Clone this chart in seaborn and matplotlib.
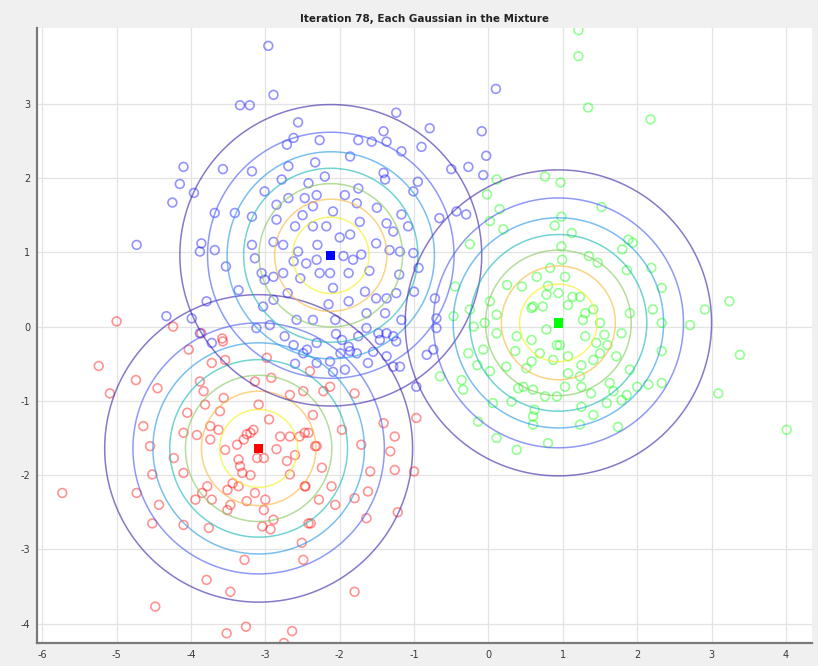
import numpy as np
import pandas as pd
import matplotlib
matplotlib.use("Agg")
import matplotlib.pyplot as plt
import seaborn as sns

# ---- samples assigned to each mixture component ----
red_x = [-5.24, -4.74, -5.09, -4.45, -4.03, -4.24, -3.57, -3.72, -3.54, -2.98, -3.88, -3.83, -3.56,
         -3.14, -2.92, -2.67, -2.49, -4.05, -3.81, -3.61, -3.09, -4.64, -4.10, -3.92, -3.74, -3.63,
         -3.74, -3.38, -3.54, -3.20, -3.16, -3.29, -2.95, -2.80, -2.67, -2.54, -2.42, -2.33, -4.55,
         -4.23, -4.10, -4.52, -4.73, -5.73, -4.43, -4.52, -4.10, -3.94, -3.85, -3.76, -3.72, -3.78,
         -3.51, -3.44, -3.47, -3.51, -3.36, -3.34, -3.31, -3.36, -3.11, -3.02, -3.00, -3.02, -2.89,
         -3.04, -2.93, -2.67, -2.71, -2.60, -2.46, -2.39, -2.51, -2.49, -3.28, -3.79, -3.47, -4.48,
         -3.52, -3.26, -2.64, -2.75, -3.14, -2.40, -2.13, -2.22, -1.80, -2.36, -2.47, -2.31, -1.97,
         -1.71, -1.41, -1.26, -1.32, -0.97, -2.24, -1.59, -1.26, -1.00, -2.47, -2.11, -2.28, -2.06,
         -1.80, -1.62, -2.42, -1.64, -1.22, -1.80, -5.00, -3.86, -3.58, -3.25, -2.85, -3.20, -3.25]
red_y = [-0.53, -0.72, -0.90, -0.83, -0.31, 0.00, -0.20, -0.49, -0.45, -0.42, -0.74, -0.87, -0.96,
         -0.74, -0.69, -0.92, -0.87, -1.16, -1.05, -1.14, -1.05, -1.34, -1.43, -1.46, -1.34, -1.39,
         -1.52, -1.59, -1.66, -1.43, -1.39, -1.52, -1.25, -1.48, -1.48, -1.48, -1.43, -1.61, -1.61,
         -1.77, -1.97, -1.99, -2.24, -2.24, -2.40, -2.65, -2.67, -2.33, -2.24, -2.71, -2.33, -2.15,
         -2.20, -2.11, -2.40, -2.47, -2.15, -1.88, -1.97, -1.79, -1.77, -1.77, -2.33, -2.47, -2.60,
         -2.69, -2.73, -1.99, -1.81, -1.73, -2.15, -2.65, -2.91, -3.14, -3.14, -3.41, -3.57, -3.77,
         -4.13, -4.04, -4.10, -4.26, -2.24, -0.60, -0.81, -0.87, -0.90, -1.19, -1.43, -1.61, -1.39,
         -1.59, -1.30, -1.48, -1.68, -1.23, -1.90, -1.95, -1.93, -1.95, -2.15, -2.15, -2.33, -2.40,
         -2.31, -2.22, -2.65, -2.58, -2.50, -3.57, 0.07, -0.09, -0.16, -1.45, -1.65, -2.00, -2.35]

blue_x = [-2.89, -3.34, -3.21, -2.56, -1.24, -0.79, -0.09, -0.03, -0.27, -0.50, -0.90, -1.17, -1.41,
          -1.37, -1.57, -1.75, -2.27, -2.62, -2.71, -1.86, -2.33, -2.69, -3.18, -3.57, -4.10, -4.15,
          -4.25, -3.96, -3.68, -3.41, -3.18, -3.01, -2.78, -2.85, -2.69, -2.42, -2.31, -2.20, -1.93,
          -1.75, -1.41, -1.39, -1.17, -1.01, -0.95, -0.66, -0.43, -0.30, -0.07, -1.77, -2.09, -2.47,
          -2.36, -2.60, -2.85, -2.36, -2.18, -1.86, -1.73, -1.37, -1.28, -1.08, -1.51, -1.33, -1.19,
          -1.01, -0.94, -3.18, -2.89, -2.76, -2.56, -3.14, -3.68, -3.88, -3.86, -4.73, -3.53, -3.05,
          -3.01, -2.89, -2.76, -2.62, -2.53, -2.31, -2.13, -2.27, -2.09, -1.88, -1.82, -1.71, -1.66,
          -1.51, -1.37, -1.24, -1.00, -0.72, -0.70, -0.83, -1.17, -1.39, -1.64, -1.88, -2.06, -2.36,
          -2.58, -2.89, -3.03, -3.12, -3.36, -3.79, -3.99, -4.33, -3.88, -3.72, -2.62, -2.49, -2.31,
          -2.13, -1.99, -1.88, -1.77, -1.55, -1.37, -1.28, -1.48, -1.64, -1.75, -1.19, -0.97, -1.62,
          -1.93, -2.09, -2.31, -2.74, -2.94, 0.10, -0.70, -1.28, -0.74, -2.44, -1.86, -1.46, -1.24,
          -1.37, -1.97, -2.96, -2.30, -2.00, -1.95, -2.45, -2.15, -1.60, -2.70, -2.50, -1.50, -1.20,
          -2.05, -2.60]
blue_y = [3.12, 2.98, 2.98, 2.75, 2.88, 2.67, 2.63, 2.30, 2.15, 2.12, 2.42, 2.36, 2.63,
          2.49, 2.49, 2.51, 2.51, 2.54, 2.45, 2.29, 2.21, 2.16, 2.09, 2.12, 2.15, 1.92,
          1.67, 1.80, 1.53, 1.53, 1.48, 1.82, 1.98, 1.64, 1.73, 1.93, 1.77, 2.02, 1.77,
          1.86, 2.07, 1.98, 1.51, 1.82, 1.95, 1.46, 1.55, 1.51, 2.04, 1.66, 1.55, 1.73,
          1.62, 1.35, 1.44, 1.35, 1.35, 1.24, 1.41, 1.39, 1.28, 1.35, 1.12, 1.03, 1.01,
          0.99, 0.79, 1.10, 1.14, 1.10, 1.01, 0.92, 1.03, 1.01, 1.12, 1.10, 0.81, 0.72,
          0.63, 0.67, 0.72, 0.88, 0.65, 0.90, 0.72, 0.72, 0.52, 0.72, 0.90, 0.97, 0.47,
          0.38, 0.38, 0.45, 0.47, 0.38, -0.02, -0.38, 0.09, 0.18, 0.18, 0.34, 0.09, 0.09,
          0.09, 0.36, 0.27, -0.02, 0.49, 0.34, 0.11, 0.14, -0.09, -0.22, -0.25, -0.36, -0.22,
          -0.47, -0.36, -0.27, -0.36, -0.34, -0.40, -0.13, -0.09, -0.02, -0.13, -0.54, -0.81, -0.49,
          -0.58, -0.61, -0.49, -0.13, 0.02, 3.20, 0.11, -0.54, -0.31, -0.31, -0.33, -0.18, -0.20,
          -0.09, -0.18, 3.78, 1.10, 1.20, 0.95, 0.85, 0.30, 0.75, 0.45, 1.50, 1.60, 0.70,
          -0.10, -0.50]

green_x = [1.21, 1.21, 1.34, 2.18, 0.76, 0.97, 0.11, 1.52, 0.15, -0.02, 0.98, 0.89, 1.12, 0.20,
           0.02, 1.88, 1.94, 1.80, 0.98, 0.99, -0.25, 1.47, 2.19, 2.33, 1.86, -0.45, 0.25, 0.83,
           1.03, 0.65, 0.45, 1.23, 0.78, 0.94, 1.07, 0.02, -0.25, 0.11, 0.58, 0.73, 1.27, 1.41,
           1.50, 1.90, 2.21, 2.33, 2.71, 2.91, 3.24, -0.05, -0.20, -0.47, 0.38, 0.58, 0.78, 0.96,
           1.30, 1.45, 1.56, 1.60, 1.79, 0.11, -0.07, -0.27, 0.36, 0.87, 1.07, 1.25, 1.41, 1.72,
           1.90, 2.33, 3.38, 0.58, 0.51, 0.24, 0.02, -0.15, -0.65, -0.36, 0.40, 0.47, 0.60, 0.76,
           0.92, 1.03, 1.25, 1.38, 1.63, 1.68, 1.86, 2.00, 2.15, 2.33, 3.09, -0.34, 0.06, 0.31,
           0.62, 0.60, 1.25, 1.41, 1.59, 1.79, 1.23, 0.60, -0.14, 0.11, 1.74, 0.80, 0.38, 4.01,
           0.60, 0.80, 1.13, 1.30, 0.92, 1.07, 1.23, 1.50, 0.69, 1.35]
green_y = [3.99, 3.64, 2.95, 2.79, 2.02, 1.94, 1.98, 1.61, 1.58, 1.78, 1.48, 1.36, 1.26, 1.31,
           1.42, 1.17, 1.13, 1.04, 1.08, 0.90, 1.11, 0.86, 0.79, 0.52, 0.76, 0.54, 0.56, 0.79,
           0.67, 0.67, 0.54, 0.40, 0.43, 0.45, 0.29, 0.34, 0.23, 0.16, 0.25, 0.27, 0.09, 0.23,
           0.05, 0.18, 0.23, 0.05, 0.02, 0.23, 0.34, 0.05, 0.00, 0.14, -0.13, -0.18, -0.04, -0.25,
           -0.13, -0.22, -0.11, -0.25, -0.09, -0.09, -0.31, -0.36, -0.33, -0.45, -0.40, -0.52, -0.45, -0.40,
           -0.58, -0.33, -0.38, -0.47, -0.56, -0.54, -0.60, -0.52, -0.67, -0.72, -0.83, -0.81, -0.85, -0.94,
           -0.94, -0.81, -0.81, -0.90, -0.76, -0.87, -0.92, -0.81, -0.78, -0.76, -0.90, -0.85, -1.03, -1.01,
           -1.12, -1.21, -1.08, -1.19, -1.03, -0.99, -1.32, -1.32, -1.28, -1.50, -1.35, -1.57, -1.66, -1.39,
           0.27, 0.55, 0.40, 0.18, -0.25, -0.63, -0.67, -0.36, -0.36, 0.95]

# ---- fitted mixture parameters (isotropic covariance) ----
component_names = ["Gaussian 1", "Gaussian 2", "Gaussian 3"]
mean_x = [-3.09, -2.12, 0.94]
mean_y = [-1.64, 0.96, 0.05]
variance = [1.03, 0.99, 1.02]
point_colors = ["#ff0000", "#0000ff", "#00ff00"]

title_text = "Iteration 78, Each Gaussian in the Mixture"
x_ticks = [-6, -5, -4, -3, -2, -1, 0, 1, 2, 3, 4]
y_ticks = [-4, -3, -2, -1, 0, 1, 2, 3]

# parula-like colours for the 7 density levels, outermost first
level_colors = ["#3e26a8", "#4a5cf0", "#2a98e8", "#1bb9b5", "#86c85c", "#f8b83c", "#f4f01a"]

sns.set_style("white")
plt.rcParams["axes.unicode_minus"] = False
plt.rcParams["font.family"] = ["DejaVu Sans"]

fig = plt.figure(figsize=(8.18, 6.66), dpi=100, facecolor="#f0f0f0")
ax = fig.add_axes([37 / 818, 23 / 666, 775 / 818, 615 / 666])
ax.set_facecolor("white")

samples = pd.DataFrame({
    "x": red_x + blue_x + green_x,
    "y": red_y + blue_y + green_y,
    "component": ([component_names[0]] * len(red_x) + [component_names[1]] * len(blue_x)
                  + [component_names[2]] * len(green_x)),
})
palette = dict(zip(component_names, point_colors))

sns.scatterplot(data=samples, x="x", y="y", hue="component", palette=palette,
                s=40, linewidth=1.2, alpha=0.42, legend=False, ax=ax, zorder=2)
# hollow circle markers: move the fill colour onto the edge
for coll in ax.collections:
    fc = coll.get_facecolors()
    coll.set_edgecolors(fc)
    coll.set_facecolor("none")

# contour lines of each component density
gx = np.linspace(-6.5, 4.8, 500)
gy = np.linspace(-4.6, 4.4, 450)
GX, GY = np.meshgrid(gx, gy)
for mx, my, v in zip(mean_x, mean_y, variance):
    dens = np.exp(-((GX - mx) ** 2 + (GY - my) ** 2) / (2 * v)) / (2 * np.pi * v)
    peak = 1 / (2 * np.pi * v)
    levels = peak * np.arange(1, 8) / 8
    ax.contour(GX, GY, dens, levels=levels, colors=level_colors,
               linewidths=1.1, alpha=0.62, zorder=3)

means = pd.DataFrame({"x": mean_x, "y": mean_y, "component": component_names})
sns.scatterplot(data=means, x="x", y="y", hue="component", palette=palette,
                marker="s", s=45, linewidth=0, legend=False, ax=ax, zorder=4)

ax.set_xlim(-6.07, 4.35)
ax.set_ylim(-4.26, 4.02)
ax.set_xticks(x_ticks)
ax.set_yticks(y_ticks)
ax.set_xlabel("")
ax.set_ylabel("")
ax.grid(True, color="#e3e3e3", linewidth=0.9)
ax.set_axisbelow(True)
for side in ["top", "right"]:
    ax.spines[side].set_visible(False)
for side in ["left", "bottom"]:
    ax.spines[side].set_color("#7a7a7a")
    ax.spines[side].set_linewidth(1.6)
ax.tick_params(direction="in", length=3, width=0.8, color="#555555",
               labelsize=7, labelcolor="#3a3a3a", pad=5)
ax.set_title(title_text, fontsize=7.5, fontweight="bold", pad=4, color="#222222")

fig.savefig("out.png", dpi=100, facecolor=fig.get_facecolor())
